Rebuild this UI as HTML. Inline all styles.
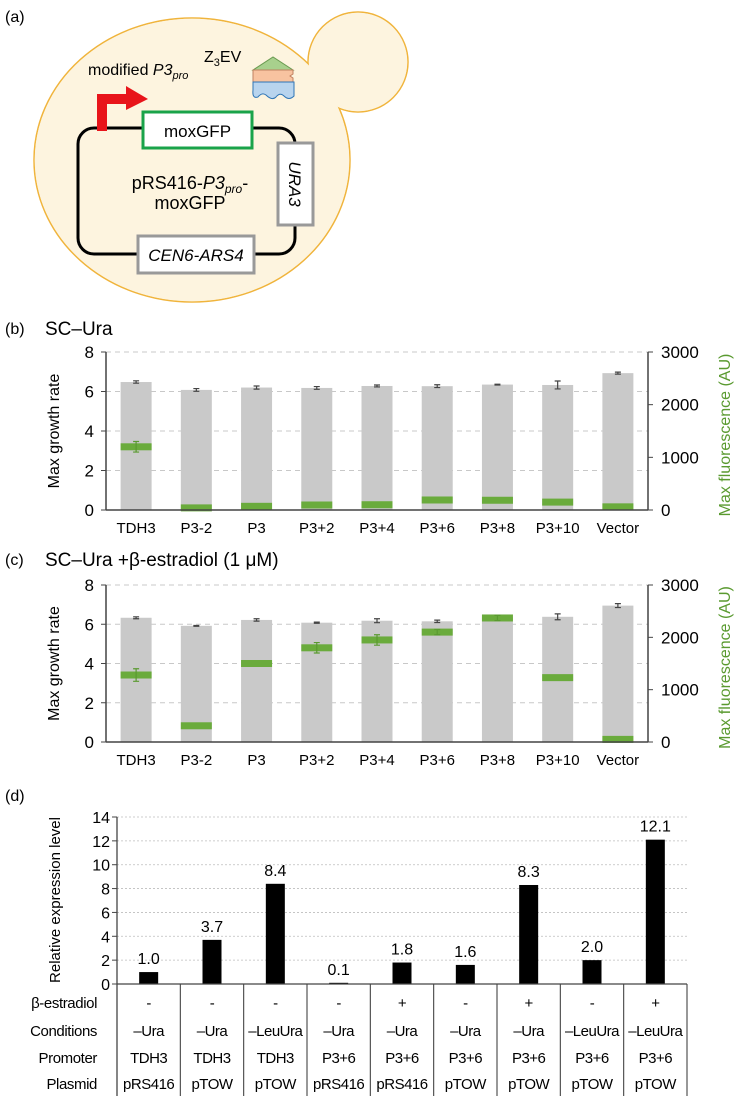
<!DOCTYPE html>
<html><head><meta charset="utf-8"><style>
html,body{margin:0;padding:0;background:#fff}
svg{display:block;font-family:"Liberation Sans",Arial,sans-serif}
</style></head><body>
<svg id="fig" width="737" height="1096" viewBox="0 0 737 1096" xmlns="http://www.w3.org/2000/svg">
<!-- Panel (a) -->
<g>
<text x="5" y="22" font-size="16">(a)</text>
<g>
<circle cx="358" cy="62" r="50" fill="#fdf4df" stroke="#f0b43c" stroke-width="1.5"/>
<ellipse cx="192" cy="160" rx="158" ry="142" fill="#fdf4df" stroke="#f0b43c" stroke-width="1.5"/>
<circle cx="358" cy="62" r="49.2" fill="#fdf4df"/>
<ellipse cx="192" cy="160" rx="157.2" ry="141.2" fill="#fdf4df"/>
</g>
<rect x="78" y="128" width="217" height="126" rx="16" fill="none" stroke="#000" stroke-width="3"/>
<rect x="143" y="112" width="109" height="36" fill="#fff" stroke="#1aa34a" stroke-width="3"/>
<text x="197.5" y="137" font-size="17" text-anchor="middle">moxGFP</text>
<rect x="278" y="143" width="35" height="82" fill="#fff" stroke="#999" stroke-width="3"/>
<text x="0" y="0" font-size="17" font-style="italic" text-anchor="middle" transform="translate(289,184) rotate(90)">URA3</text>
<rect x="138" y="236" width="116" height="37" fill="#fff" stroke="#999" stroke-width="3"/>
<text x="196" y="261" font-size="17" font-style="italic" text-anchor="middle">CEN6-ARS4</text>
<path d="M97 131 L97 94 L126 94 L126 86 L148 99 L126 110 L126 104 L107 104 L107 131 Z" fill="#e8141a"/>
<text x="88" y="75" font-size="16">modified <tspan font-style="italic">P3</tspan><tspan font-style="italic" font-size="11" dy="4">pro</tspan></text>
<text x="204" y="62" font-size="16">Z<tspan font-size="11" dy="4">3</tspan><tspan dy="-4">EV</tspan></text>
<g>
<path d="M253 70 L273 57 L293 70 Z" fill="#a8d08d" stroke="#6a9a50" stroke-width="1"/>
<path d="M253 70 L293 70 L293 74 L290 76 L293 78 L293 82 L253 82 Z" fill="#f8c3a0" stroke="#c08060" stroke-width="1"/>
<path d="M253 82 L294 82 L294 96 Q289 101 284 96 Q280 92 276 97 Q272 101 266 95 Q262 92 258 97 Q252 99 253 90 Z" fill="#b8d4ee" stroke="#2e75b6" stroke-width="1"/>
</g>
<text x="190" y="189" font-size="18" text-anchor="middle">pRS416-<tspan font-style="italic">P3</tspan><tspan font-style="italic" font-size="12" dy="4">pro</tspan><tspan dy="-4">-</tspan></text>
<text x="190" y="209" font-size="18" text-anchor="middle">moxGFP</text>
</g>
<g id="pb"></g>
<g id="pc"></g>
<g id="pd"></g>
</svg>
<script>
const strains = ["TDH3","P3-2","P3","P3+2","P3+4","P3+6","P3+8","P3+10","Vector"];
const growthB = [6.48,6.08,6.2,6.18,6.28,6.27,6.35,6.33,6.93];
const growthErrB = [0.06,0.07,0.08,0.07,0.05,0.07,0.02,0.2,0.05];
const fluorB = [1200,40,70,95,100,190,185,150,60];
const fluorErrB = [100,0,0,0,0,0,0,0,0];
const growthC = [6.33,5.92,6.22,6.08,6.18,6.15,6.35,6.38,6.95];
const growthErrC = [0.05,0.02,0.06,0.03,0.1,0.06,0.03,0.15,0.1];
const fluorC = [1280,310,1500,1800,1950,2100,2370,1230,50];
const fluorErrC = [120,0,0,100,100,50,50,0,0];
const leftTicks = [0,2,4,6,8];
const rightTicks = [0,1000,2000,3000];
const exprValues = [1.0,3.7,8.4,0.1,1.8,1.6,8.3,2.0,12.1];
const exprTicks = [0,2,4,6,8,10,12,14];
const estradiolRow = ["-","-","-","-","+","-","+","-","+"];
const conditionsRow = ["–Ura","–Ura","–LeuUra","–Ura","–Ura","–Ura","–Ura","–LeuUra","–LeuUra"];
const promoterRow = ["TDH3","TDH3","TDH3","P3+6","P3+6","P3+6","P3+6","P3+6","P3+6"];
const plasmidRow = ["pRS416","pTOW","pTOW","pRS416","pRS416","pTOW","pTOW","pTOW","pTOW"];

const NS="http://www.w3.org/2000/svg";
function mk(parent,tag,attrs,txt){const e=document.createElementNS(NS,tag);for(const k in attrs)e.setAttribute(k,attrs[k]);if(txt!==undefined)e.textContent=txt;parent.appendChild(e);return e;}

function growthPanel(gid,label,title,titleY,yTop,yBot,growth,gErr,fluor,fErr){
  const g=document.getElementById(gid);
  const x0=106,x1=648,w=(x1-x0)/strains.length;
  const yL=v=>yBot-(v/8)*(yBot-yTop);
  const yR=v=>yBot-(v/3000)*(yBot-yTop);
  const cx=i=>x0+(i+0.5)*w;
  let t=mk(g,'text',{x:5,y:titleY+6,'font-size':16});t.textContent=label;
  
  
  t=mk(g,'text',{x:45,y:titleY+7,'font-size':19},title.base);
  
  
  leftTicks.forEach(v=>{
    if(v>0){const l=mk(g,'line',{x1:x0,x2:x1,y1:yL(v),y2:yL(v),stroke:'#c8c8c8','stroke-dasharray':'5,4'});
    
    }
    const tl=mk(g,'line',{x1:x0-5,x2:x0,y1:yL(v),y2:yL(v),stroke:'#444'});
    
    
    const tx=mk(g,'text',{x:x0-12,y:yL(v)+6,'font-size':17,'text-anchor':'end'},String(v));
    
    
  });
  rightTicks.forEach(v=>{
    const tl=mk(g,'line',{x1:x1,x2:x1+5,y1:yR(v),y2:yR(v),stroke:'#444'});
    
    
    const tx=mk(g,'text',{x:x1+13,y:yR(v)+6,'font-size':17},String(v));
    
    
  });
  strains.forEach((s,i)=>{
    const bw=31;
    const b=mk(g,'rect',{x:cx(i)-bw/2,y:yL(growth[i]),width:bw,height:yBot-yL(growth[i]),fill:'#c9c9c9'});
    
    
    const e1=yL(growth[i]+gErr[i]),e2=yL(growth[i]-gErr[i]);
    const eb=mk(g,'path',{d:`M${cx(i)} ${e1}V${e2}M${cx(i)-3} ${e1}H${cx(i)+3}M${cx(i)-3} ${e2}H${cx(i)+3}`,stroke:'#444','stroke-width':1.2,fill:'none'});
    
    
    const fy=yR(fluor[i]);
    const top=Math.max(fy-3.5,yTop),bot=Math.min(fy+3.5,yBot+3);
    const fm=mk(g,'rect',{x:cx(i)-bw/2,y:Math.min(top,yBot-4),width:bw,height:Math.max(bot-top,7),fill:'#6aab3c'});
    
    
    if(fErr[i]>0){
      const f1=yR(fluor[i]+fErr[i]),f2=yR(fluor[i]-fErr[i]);
      const fe=mk(g,'path',{d:`M${cx(i)} ${f1}V${f2}M${cx(i)-3} ${f1}H${cx(i)+3}M${cx(i)-3} ${f2}H${cx(i)+3}`,stroke:'#5a9a30','stroke-width':1.2,fill:'none'});
      
      
    }
    const lb=mk(g,'text',{x:cx(i),y:yBot+23,'font-size':15,'text-anchor':'middle'},s);
    
    
  });
  let ax=mk(g,'line',{x1:x0,x2:x0,y1:yTop,y2:yBot,stroke:'#444','stroke-width':1.5});
  
  
  ax=mk(g,'line',{x1:x1,x2:x1,y1:yTop,y2:yBot,stroke:'#444','stroke-width':1.5});
  
  
  ax=mk(g,'line',{x1:x0,x2:x1,y1:yBot,y2:yBot,stroke:'#444','stroke-width':1.5});
  
  
  const my=(yTop+yBot)/2;
  t=mk(g,'text',{transform:`translate(59,${my}) rotate(-90)`,'font-size':16,'text-anchor':'middle'},'Max growth rate');
  
  
  t=mk(g,'text',{transform:`translate(730,${my+4}) rotate(-90)`,'font-size':16,'text-anchor':'middle',fill:'#5a9a30'},'Max fluorescence (AU)');
  
  
}
growthPanel('pb','(b)',{base:'SC–Ura'},328,352,510,growthB,growthErrB,fluorB,fluorErrB);
growthPanel('pc','(c)',{base:'SC–Ura +β-estradiol (1 μM)'},559,585,742,growthC,growthErrC,fluorC,fluorErrC);

(function(){
  const g=document.getElementById('pd');
  const x0=117,x1=687,yTop=817,yBot=984,w=(x1-x0)/exprValues.length;
  const y=v=>yBot-(v/14)*(yBot-yTop);
  const cx=i=>x0+(i+0.5)*w;
  let t=mk(g,'text',{x:5,y:801,'font-size':16},'(d)');
  
  
  exprTicks.forEach(v=>{
    if(v>0){const l=mk(g,'line',{x1:x0,x2:x1,y1:y(v),y2:y(v),stroke:'#bdbdbd','stroke-dasharray':'2,2','stroke-width':0.8});
    
    }
    const tl=mk(g,'line',{x1:x0-5,x2:x0,y1:y(v),y2:y(v),stroke:'#444'});
    
    
    const tx=mk(g,'text',{x:x0-7,y:y(v)+6,'font-size':16,'text-anchor':'end'},String(v));
    
    
  });
  exprValues.forEach((v,i)=>{
    const b=mk(g,'rect',{x:cx(i)-9.5,y:y(v),width:19,height:yBot-y(v),fill:'#000'});
    
    
    const l=mk(g,'text',{x:cx(i),y:y(v)-8,'font-size':16,'text-anchor':'middle'},v.toFixed(1));
    
    
  });
  let ax=mk(g,'line',{x1:x0,x2:x0,y1:yTop,y2:1096,stroke:'#444','stroke-width':1.3});
  
  
  ax=mk(g,'line',{x1:x0,x2:x1,y1:yBot,y2:yBot,stroke:'#444','stroke-width':1.3});
  
  
  for(let i=1;i<=exprValues.length;i++){
    const l=mk(g,'line',{x1:x0+i*w,x2:x0+i*w,y1:yBot,y2:1096,stroke:'#444','stroke-width':1.1});
    
    
  }
  t=mk(g,'text',{transform:'translate(60,900) rotate(-90)','font-size':15,'text-anchor':'middle'},'Relative expression level');
  
  
  const rows=[['β-estradiol',estradiolRow,1008],['Conditions',conditionsRow,1036],['Promoter',promoterRow,1063],['Plasmid',plasmidRow,1089]];
  rows.forEach(r=>{
    const h=mk(g,'text',{x:97,y:r[2],'font-size':15,'text-anchor':'end','letter-spacing':'-0.4'},r[0]);
    
    
    r[1].forEach((c,i)=>{
      const tc=mk(g,'text',{x:cx(i),y:r[2],'font-size':15,'text-anchor':'middle','letter-spacing':'-0.5'},c);
      
      
    });
  });
})();
</script>
</body></html>
